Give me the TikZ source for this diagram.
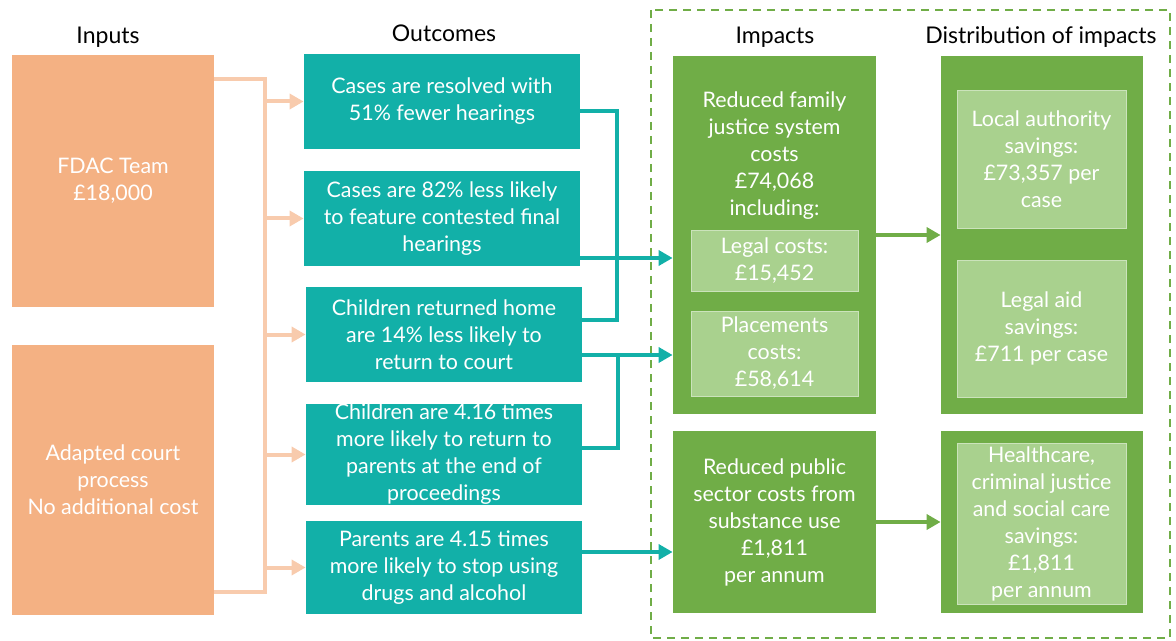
\documentclass[tikz,border=0pt]{standalone}
\usepackage{fontspec}
\setmainfont{Lato}
\usetikzlibrary{arrows.meta,positioning}

\definecolor{inorange}{HTML}{F4B183}
\definecolor{inline}{HTML}{F8CBAD}
\definecolor{outteal}{HTML}{12B0A8}
\definecolor{impgreen}{HTML}{70AD47}
\definecolor{sublight}{HTML}{A9D18E}

\begin{document}
\begin{tikzpicture}[x=0.5pt,y=-0.5pt,>={Triangle[length=7pt,width=7.5pt]},
  box/.style={rectangle,align=center,text=white,inner sep=0pt,font=\fontsize{10.7}{13.5}\selectfont},
  in box/.style={box,fill=inorange,minimum width=101pt},
  out box/.style={box,fill=outteal,minimum width=138pt},
  imp box/.style={box,fill=impgreen,minimum width=101.5pt},
  sub box/.style={box,fill=sublight,draw=sublight!60!white,line width=0.4pt,minimum width=84pt},
  head/.style={font=\fontsize{11.5}{14}\selectfont,text=black},
  in line/.style={draw=inline,line width=2pt},
  out line/.style={draw=outteal,line width=2pt},
  imp line/.style={draw=impgreen,line width=2pt}]

  \useasboundingbox (0,0) rectangle (1176,641);

  % column headings
  \node[head] (h in)   at (108,37)  {Inputs};
  \node[head] (h out)  at (444,33)  {Outcomes};
  \node[head] (h imp)  at (775,37)  {Impacts};
  \node[head] (h dist) at (1041,37) {Distribution of impacts};

  % dashed frame round impacts
  \draw[impgreen,line width=0.8pt,dash pattern=on 4pt off 3pt] (651,10) rectangle (1170,638);

  % inputs
  \node[in box,minimum height=126pt] (in1) at (113,181) {FDAC Team\\\pounds18,000};
  \node[in box,minimum height=135pt] (in2) at (113,480) {Adapted court\\process\\No additional cost};

  % outcomes
  \node[out box,minimum height=47.5pt] (out1) at (442,101.5) {Cases are resolved with\\51\% fewer hearings};
  \node[out box,minimum height=47.5pt] (out2) at (442,218.5) {Cases are 82\% less likely\\to feature contested final\\hearings};
  \node[out box,minimum height=47.5pt] (out3) at (444,334.5) {Children returned home\\are 14\% less likely to\\return to court};
  \node[out box,minimum height=50.5pt] (out4) at (444,454.5) {Children are 4.16 times\\more likely to return to\\parents at the end of\\proceedings};
  \node[out box,minimum height=46.5pt] (out5) at (444,567.5) {Parents are 4.15 times\\more likely to stop using\\drugs and alcohol};

  % impacts
  \node[imp box,minimum height=179pt] (imp1) at (774.5,235) {};
  \node[box] (imp1 txt) at (774.5,156) {Reduced family\\justice system\\costs\\\pounds74,068\\including:};
  \node[sub box,minimum width=83.5pt,minimum height=30.5pt] (legal) at (774.5,260.5) {Legal costs:\\\pounds15,452};
  \node[sub box,minimum width=83.5pt,minimum height=42.5pt] (place) at (774.5,353.5) {Placements\\costs:\\\pounds58,614};
  \node[imp box,minimum height=91pt] (imp2) at (774.5,522) {Reduced public\\sector costs from\\substance use\\\pounds1,811\\per annum};

  % distribution of impacts
  \node[imp box,minimum width=101pt,minimum height=179pt] (dist1) at (1042,235) {};
  \node[sub box,minimum width=84.5pt,minimum height=69pt] (local) at (1041.5,159) {Local authority\\savings:\\\pounds73,357 per\\case};
  \node[sub box,minimum width=84.5pt,minimum height=68.5pt] (legal aid) at (1041.5,328.5) {Legal aid\\savings:\\\pounds711 per case};
  \node[imp box,minimum width=101pt,minimum height=91pt] (dist2) at (1042,522) {};
  \node[sub box,minimum width=84.5pt,minimum height=80.5pt] (health) at (1041.5,523.5) {Healthcare,\\criminal justice\\and social care\\savings:\\\pounds1,811\\per annum};

  % inputs feed every outcome
  \coordinate (bus top) at (265,79);
  \coordinate (bus bot) at (265,592);
  \draw[in line] (in1.east |- bus top) -- (bus top) -- (bus bot) -- (in2.east |- bus bot);
  \foreach \n in {1,...,5}
    \draw[in line,->,inline] (bus top |- out\n.west) -- (out\n.west);

  % outcomes to impacts
  \coordinate (j1) at (617,111);
  \coordinate (j2) at (617,320);
  \coordinate (j3) at (618,355);
  \coordinate (j4) at (618,448);
  \coordinate (sub) at (0,552);
  \draw[out line] (out1.east |- j1) -- (j1) -- (j2) -- (out3.east |- j2);
  \draw[out line,->] (out2.east |- 0,258) -- (imp1.west |- 0,258);
  \draw[out line,->] (out3.east |- j3) -- (imp1.west |- j3);
  \draw[out line] (j3) -- (j4) -- (out4.east |- j4);
  \draw[out line,->] (out5.east |- sub) -- (imp2.west |- sub);

  % impacts to who benefits
  \draw[imp line,->] (imp1.east) -- (dist1.west);
  \draw[imp line,->] (imp2.east) -- (dist2.west);
\end{tikzpicture}
\end{document}
